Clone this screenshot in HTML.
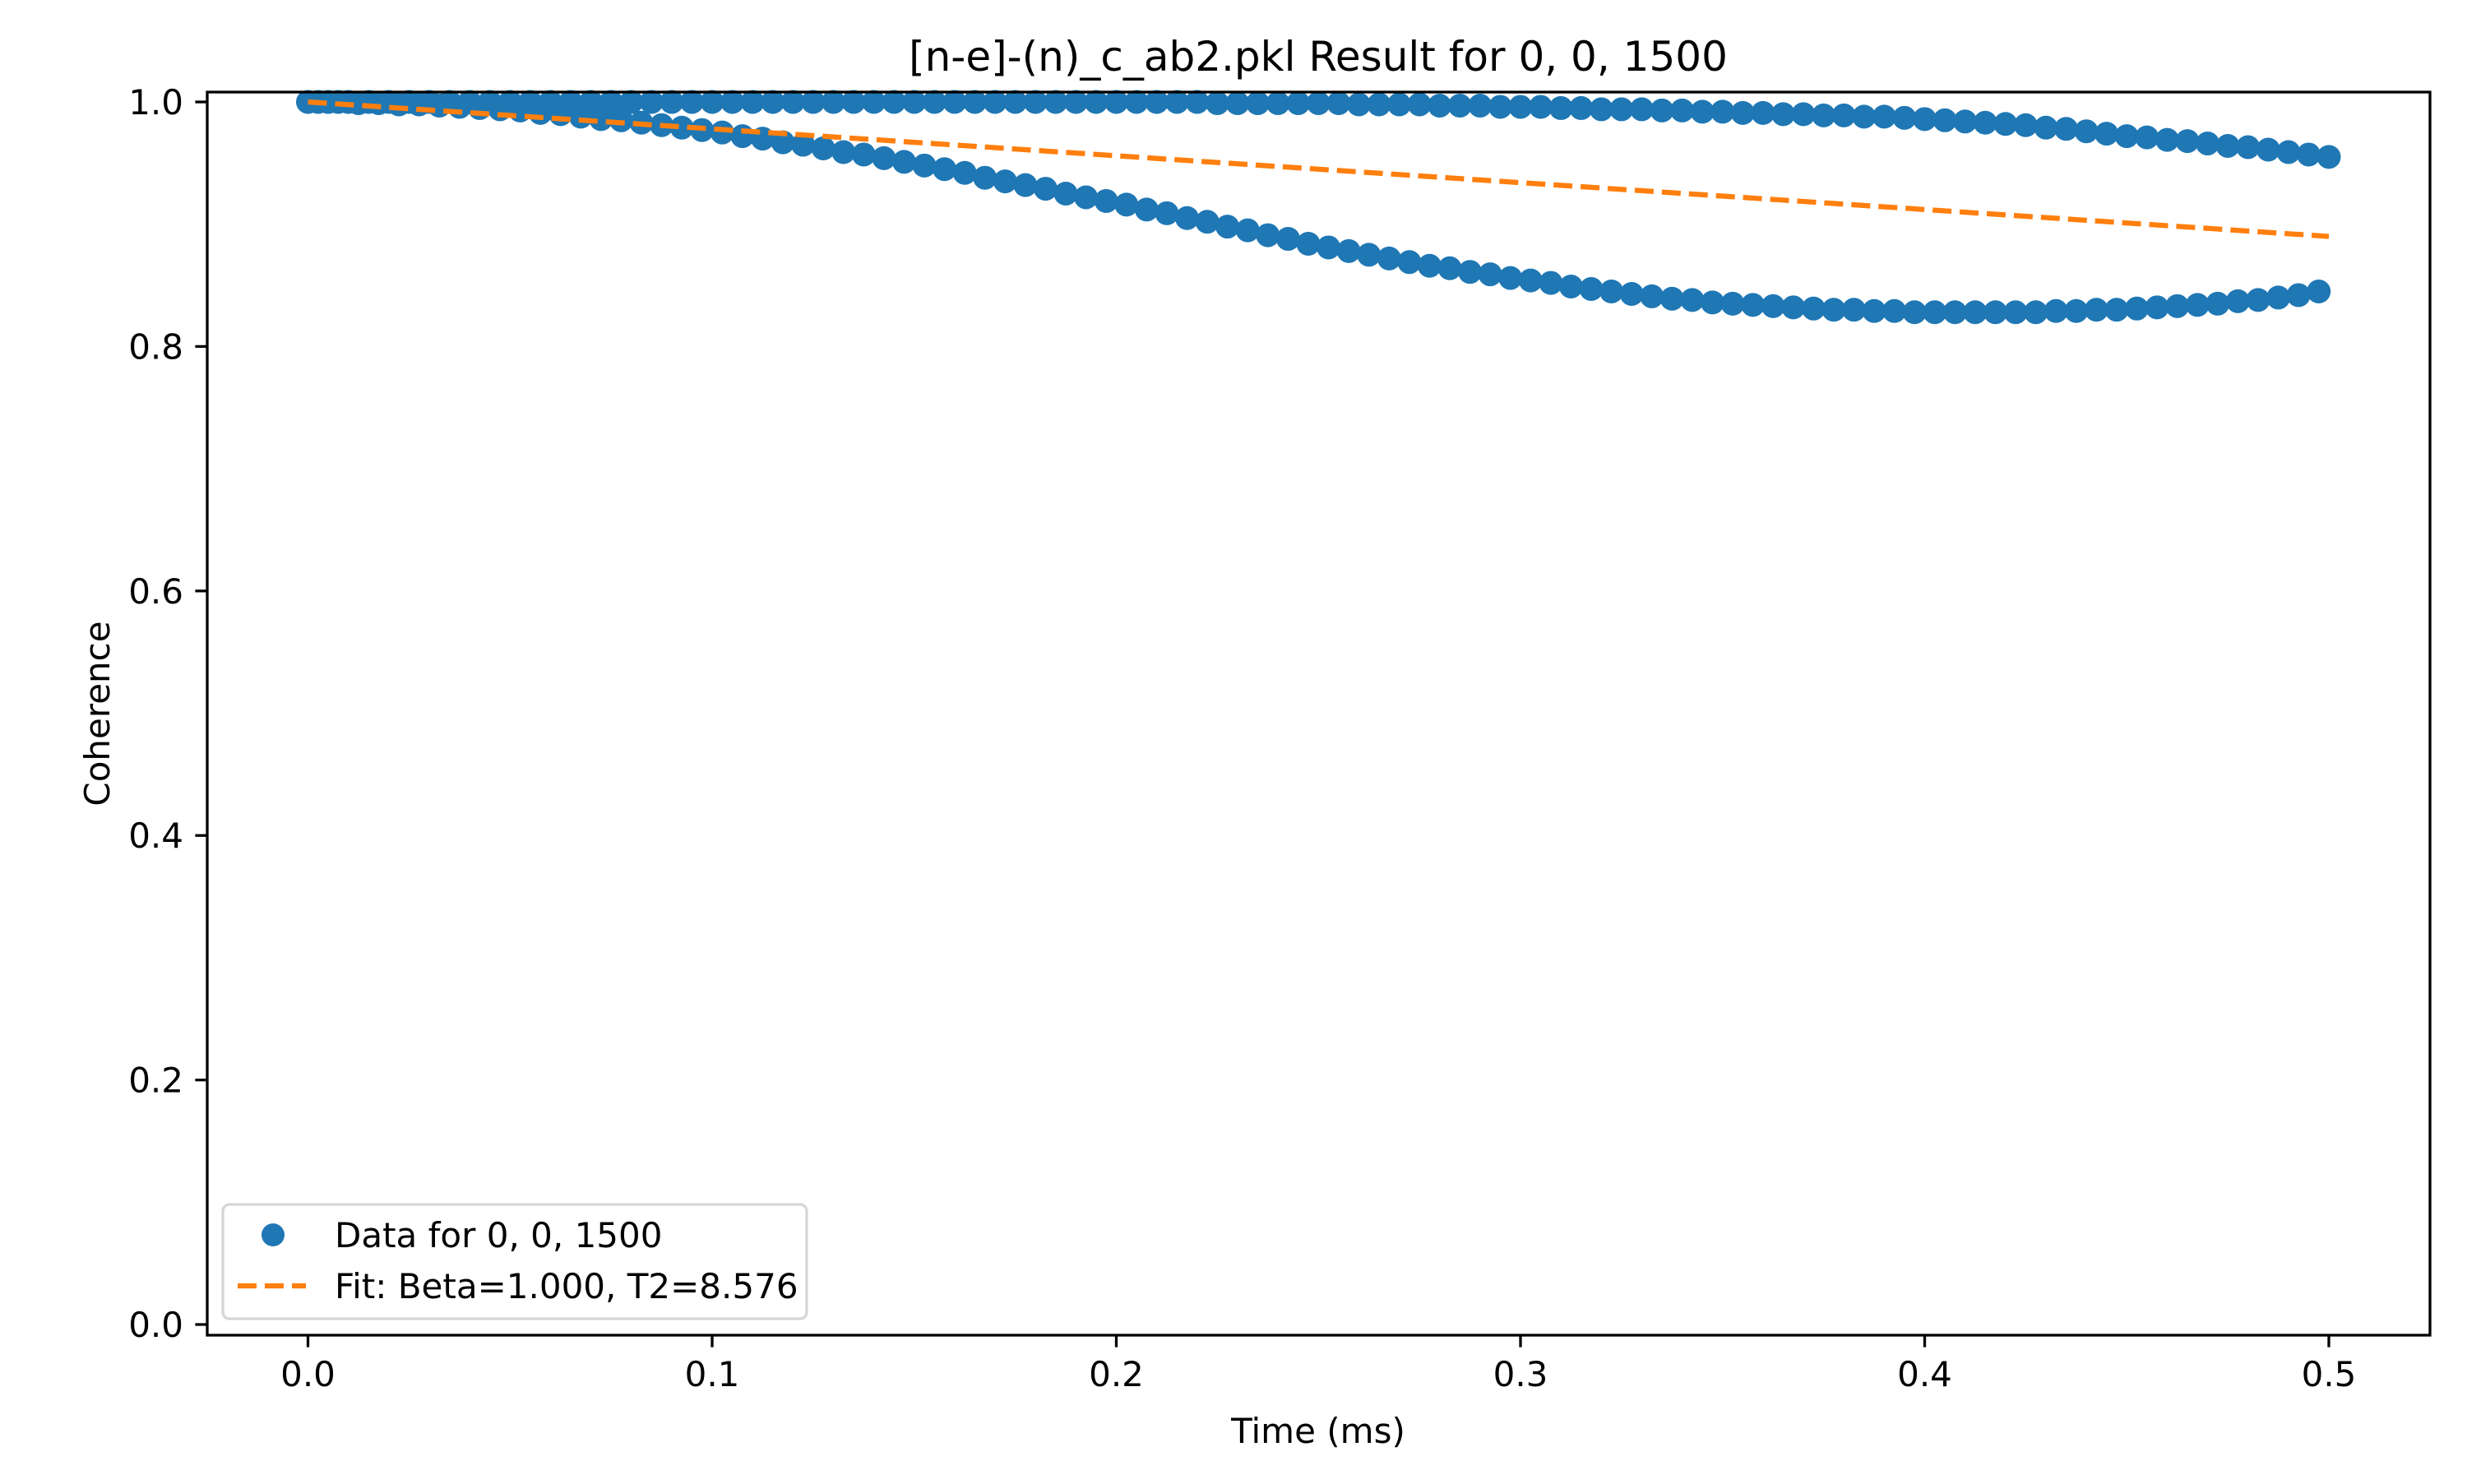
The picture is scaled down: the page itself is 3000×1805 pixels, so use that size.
<!DOCTYPE html>
<html><head><meta charset="utf-8"><style>
html,body{margin:0;padding:0;background:#fff;}
svg text{font-family:"DejaVu Sans","Liberation Sans",sans-serif;fill:#000;}
</style></head><body>
<svg id="chart" width="3000" height="1800" viewBox="0 0 3000 1800" xmlns="http://www.w3.org/2000/svg">
<rect x="0" y="0" width="3000" height="1800" fill="#fff"/>
<text x="1603" y="86" font-size="50" text-anchor="middle">[n-e]-(n)_c_ab2.pkl Result for 0, 0, 1500</text>
<text x="1603" y="1755" font-size="42" text-anchor="middle">Time (ms)</text>
<text x="0" y="0" font-size="42" text-anchor="middle" transform="translate(133,868) rotate(-90)">Coherence</text>
<g id="ticks"></g>
<g id="marks"></g>
<rect x="252" y="112" width="2703" height="1512" fill="none" stroke="#000" stroke-width="3.3"/>
<g>
<rect x="271" y="1465" width="710" height="139" rx="8" fill="#fff" fill-opacity="0.8" stroke="#d6d6d6" stroke-width="3.3"/>
<circle cx="332" cy="1502" r="14" fill="#1f77b4"/>
<text x="407" y="1517" font-size="42">Data for 0, 0, 1500</text>
<line x1="289" y1="1564" x2="372" y2="1564" stroke="#ff7f0e" stroke-width="6.25" stroke-dasharray="23,10"/>
<text x="407" y="1579" font-size="42">Fit: Beta=1.000, T2=8.576</text>
</g>
</svg>
<script>
const xTicks = [0.0, 0.1, 0.2, 0.3, 0.4, 0.5];
const xTickLabels = ["0.0", "0.1", "0.2", "0.3", "0.4", "0.5"];
const yTicks = [0.0, 0.2, 0.4, 0.6, 0.8, 1.0];
const yTickLabels = ["0.0", "0.2", "0.4", "0.6", "0.8", "1.0"];
// upper branch: t = 0, 0.005, ..., 0.5
const upperValues = [
1,1,1,1,1,1,1,1,1,1, 1,1,1,1,1,1,1,1,1,1, 1,1,1,1,1,1,1,1,1,1, 1,1,1,1,1,1,1,1,1,1, 1,
1.000,1.000,1.000,1.000,0.999,0.999,0.999,0.999,0.999,0.999,
0.999,0.998,0.998,0.998,0.998,0.997,0.997,0.997,0.996,0.996,
0.996,0.995,0.995,0.994,0.994,0.994,0.993,0.993,0.992,0.992,
0.991,0.991,0.990,0.990,0.989,0.989,0.988,0.988,0.987,0.986,
0.985,0.984,0.983,0.982,0.981,0.979,0.978,0.976,0.974,0.972,
0.971,0.969,0.968,0.966,0.964,0.963,0.961,0.959,0.957,0.955];
// lower branch: t = 0.0025, 0.0075, ..., 0.4975
const lowerValues = [
1.000,1.000,0.999,0.999,0.998,0.998,0.997,0.996,0.995,0.994,
0.993,0.991,0.990,0.988,0.986,0.985,0.983,0.981,0.979,0.977,
0.975,0.972,0.970,0.967,0.965,0.962,0.959,0.957,0.954,0.951,
0.948,0.945,0.942,0.938,0.935,0.932,0.929,0.925,0.922,0.919,
0.916,0.912,0.909,0.905,0.902,0.898,0.895,0.891,0.888,0.884,
0.881,0.878,0.875,0.872,0.869,0.866,0.864,0.861,0.859,0.856,
0.854,0.852,0.849,0.847,0.845,0.843,0.841,0.839,0.838,0.836,
0.835,0.834,0.833,0.832,0.831,0.830,0.830,0.829,0.829,0.828,
0.828,0.828,0.828,0.828,0.828,0.828,0.829,0.829,0.830,0.830,
0.831,0.832,0.833,0.834,0.835,0.837,0.838,0.840,0.842,0.845];
const fitTimes = [0,0.05,0.1,0.15,0.2,0.25,0.3,0.35,0.4,0.45,0.5];
const fitValues = [1.000,0.989,0.978,0.967,0.956,0.945,0.934,0.923,0.912,0.901,0.890];

const NS = "http://www.w3.org/2000/svg";
function xs(t){ return 374.5 + t * 4915; }
function ys(v){ return 1611 - v * 1487; }
const ticks = document.getElementById('ticks');
const marks = document.getElementById('marks');
function mk(tag, attrs){ const e = document.createElementNS(NS, tag); for (const k in attrs) e.setAttribute(k, attrs[k]); return e; }

xTicks.forEach((t, i) => {
  const l = mk('line', {x1: xs(t), x2: xs(t), y1: 1624, y2: 1638.6, stroke: '#000', 'stroke-width': 3.3});
  
  
  ticks.appendChild(l);
  const tx = mk('text', {x: xs(t), y: 1686, 'font-size': 42, 'text-anchor': 'middle'});
  tx.textContent = xTickLabels[i];
  
  
  ticks.appendChild(tx);
});
yTicks.forEach((v, i) => {
  const l = mk('line', {x1: 237.4, x2: 252, y1: ys(v), y2: ys(v), stroke: '#000', 'stroke-width': 3.3});
  
  
  ticks.appendChild(l);
  const tx = mk('text', {x: 223, y: ys(v) + 15, 'font-size': 42, 'text-anchor': 'end'});
  tx.textContent = yTickLabels[i];
  
  
  ticks.appendChild(tx);
});

for (let i = 0; i < upperValues.length; i++) {
  const c = mk('circle', {cx: xs(i * 0.005), cy: ys(upperValues[i]), r: 14.5, fill: '#1f77b4'});
  
  
  marks.appendChild(c);
  if (i < lowerValues.length) {
    const d = mk('circle', {cx: xs(0.0025 + i * 0.005), cy: ys(lowerValues[i]), r: 14.5, fill: '#1f77b4'});
    
    
    marks.appendChild(d);
  }
}
const pts = fitTimes.map((t, i) => xs(t) + ',' + ys(fitValues[i])).join(' ');
const fit = mk('polyline', {points: pts, fill: 'none', stroke: '#ff7f0e', 'stroke-width': 6.25, 'stroke-dasharray': '23,10'});


marks.appendChild(fit);
</script>
</body></html>
